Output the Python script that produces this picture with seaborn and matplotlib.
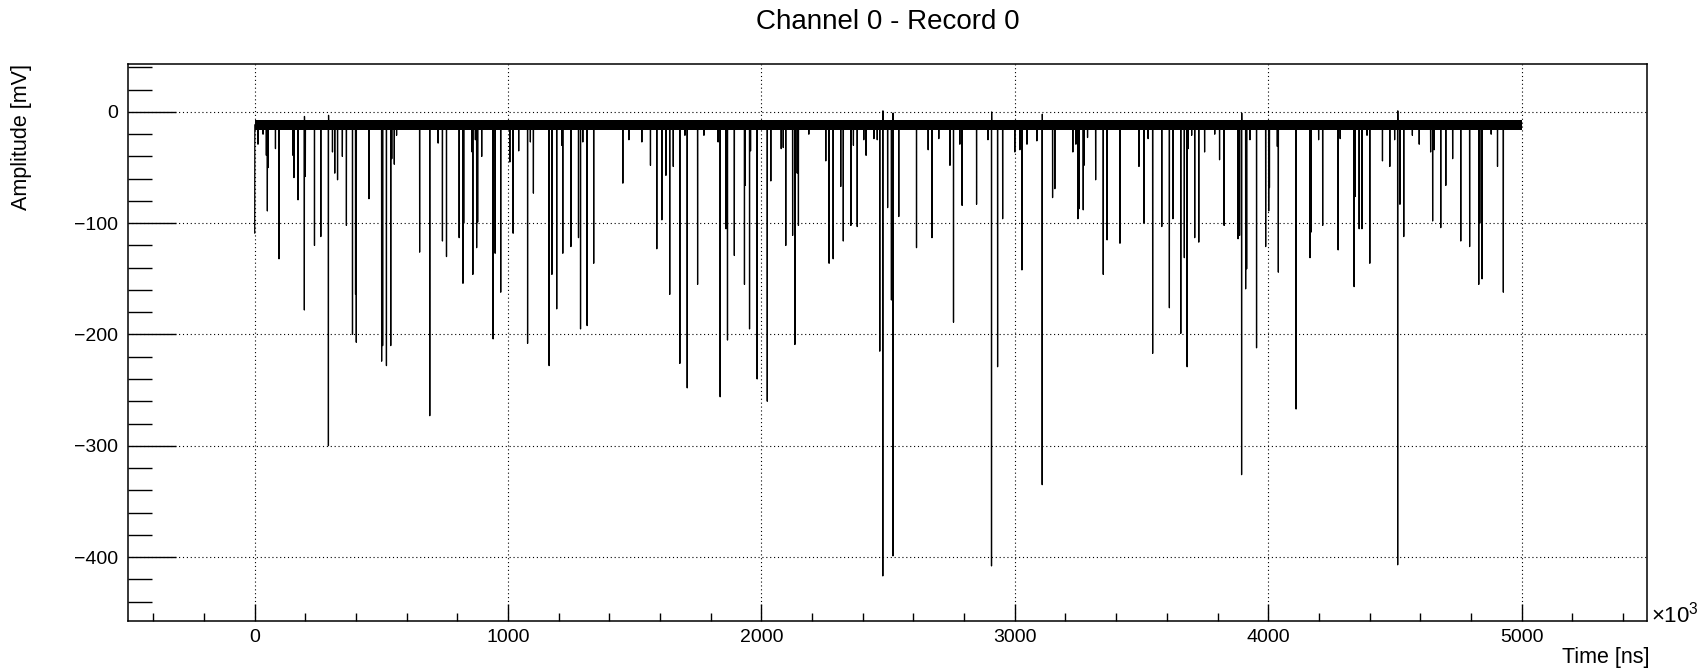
import numpy as np
import pandas as pd
import matplotlib
matplotlib.use("Agg")
import matplotlib.pyplot as plt
import seaborn as sns
from matplotlib.ticker import MultipleLocator

# ---------------- data (time in units of 10^3 ns, amplitude in mV) ----------------
record_start = 0
record_end = 5000
sample_step = 0.5
baseline_mv = -11.5
noise_low_mv = -16.0
noise_high_mv = -7.0

spike_times = [
    0, 13, 33, 46, 50, 53, 82, 96, 151, 155, 171, 196, 200, 236, 261, 291, 307, 316,
    327, 346, 362, 386, 398, 401, 451, 501, 505, 520, 537, 541, 551, 560, 651, 691,
    724, 741, 757, 807, 822, 825, 858, 861, 871, 876, 880, 896, 941, 949,
    971, 1007, 1020, 1042, 1077, 1088, 1100, 1162, 1173, 1192, 1212, 1216, 1248,
    1249, 1278, 1286, 1295, 1312, 1338, 1453, 1477, 1528, 1562, 1587, 1607, 1623,
    1638, 1652, 1678, 1698, 1707, 1748, 1773, 1829, 1837, 1860, 1866, 1893, 1933,
    1936, 1953,
    1957, 1983, 2023, 2037, 2078, 2086, 2096, 2123, 2132, 2141, 2146, 2187, 2254,
    2267, 2283, 2313, 2323, 2353, 2363, 2378, 2404, 2413, 2444, 2457, 2467, 2479,
    2498, 2513, 2519, 2542, 2612, 2658, 2673, 2700, 2744, 2758, 2783, 2792, 2849,
    2894, 2908, 2932,
    2952, 3000, 3020, 3028, 3048, 3087, 3108, 3149, 3158, 3229, 3241, 3249, 3253,
    3270, 3273, 3287, 3319, 3349, 3364, 3415, 3490, 3510, 3526, 3544, 3580, 3610,
    3624, 3655, 3669, 3680, 3684, 3698, 3710, 3726, 3749, 3789, 3808, 3826, 3881,
    3887, 3895, 3911, 3915,
    3928, 3954, 3990, 4002, 4005, 4036, 4040, 4110, 4165, 4169, 4199, 4215, 4276,
    4284, 4339, 4343, 4359, 4370, 4390, 4401, 4451, 4480, 4499, 4511, 4520, 4535,
    4569, 4596, 4641, 4649, 4655, 4681, 4701, 4728, 4760, 4795, 4831, 4835, 4844,
    4880, 4905, 4928,
]
spike_amps = [
    -109, -29, -20, -39, -89, -50, -33, -132, -39, -59, -79, -178, -58, -120, -112, -300, -36, -55,
    -61, -40, -102, -200, -164, -207, -78, -224, -210, -228, -210, -42, -47, -21, -126, -273,
    -28, -116, -130, -113, -154, -100, -36, -146, -25, -122, -99, -40, -204, -127,
    -162, -45, -109, -35, -208, -27, -73, -228, -146, -177, -30, -127, -121,
    -42, -113, -195, -27, -192, -136, -64, -25, -27, -48, -123, -97, -57,
    -164, -49, -226, -21, -248, -155, -21, -27, -256, -105, -205, -129, -155,
    -66, -195,
    -35, -240, -260, -62, -33, -32, -120, -111, -209, -55, -102, -20, -44,
    -136, -132, -67, -116, -102, -30, -103, -25, -39, -24, -25, -215, -417,
    -86, -169, -399, -94, -122, -34, -113, -24, -48, -189, -29, -84, -83,
    -25, -408, -229,
    -96, -36, -34, -142, -29, -26, -335, -77, -69, -36, -29, -96, -87,
    -88, -48, -23, -61, -146, -115, -118, -49, -100, -24, -217, -103, -176,
    -96, -199, -131, -229, -33, -21, -113, -117, -36, -20, -43, -102, -114,
    -111, -326, -159, -141,
    -25, -212, -121, -89, -68, -31, -144, -267, -131, -108, -25, -102, -124,
    -24, -157, -76, -105, -105, -21, -136, -44, -49, -25, -407, -83, -112,
    -21, -29, -36, -98, -34, -104, -66, -42, -116, -121, -155, -100, -150,
    -20, -49, -162,
]
overshoot_times = [196, 291, 2479, 2519, 2908, 3108, 3895, 4511]
overshoot_amps = [-4, -3, 1, -1, 0, -2, -1, 1]

x_major = [0, 1000, 2000, 3000, 4000, 5000]
y_major = [0, -100, -200, -300, -400]

# ---------------- build the sampled trace ----------------
time = np.arange(record_start, record_end + sample_step, sample_step)
amplitude = np.full(time.shape, baseline_mv)
idx = np.round(np.array(spike_times) / sample_step).astype(int)
amplitude[idx] = np.minimum(amplitude[idx], np.array(spike_amps, dtype=float))
oidx = np.round(np.array(overshoot_times) / sample_step).astype(int) + 1
amplitude[oidx] = np.array(overshoot_amps, dtype=float)
df = pd.DataFrame({"time": time, "amplitude": amplitude})

# ---------------- style ----------------
sns.set_theme(style="white")
plt.rcParams["font.family"] = ["Liberation Sans", "DejaVu Sans"]
plt.rcParams["mathtext.fontset"] = "custom"
plt.rcParams["mathtext.rm"] = "Liberation Sans"
plt.rcParams["mathtext.it"] = "Liberation Sans:italic"
plt.rcParams["text.color"] = "black"
plt.rcParams["axes.labelcolor"] = "black"
plt.rcParams["xtick.color"] = "black"
plt.rcParams["ytick.color"] = "black"

W, H = 1706, 671
fig = plt.figure(figsize=(W / 100, H / 100), dpi=100)
left, right, top, bottom = 128, 1647, 64, 621
ax = fig.add_axes([left / W, 1 - bottom / H, (right - left) / W, (bottom - top) / H])

ax.fill_between([record_start, record_end], [noise_low_mv] * 2, [noise_high_mv] * 2,
                color="black", linewidth=0, zorder=2)
sns.lineplot(data=df, x="time", y="amplitude", ax=ax, color="black", linewidth=0.9,
             estimator=None, sort=False, zorder=3)

ax.set_xlim(-500, 5495)
ax.set_ylim(-457.5, 43.1)
ax.set_xticks(x_major)
ax.set_yticks(y_major)
ax.xaxis.set_minor_locator(MultipleLocator(200))
ax.yaxis.set_minor_locator(MultipleLocator(20))
ax.tick_params(axis="both", which="both", direction="in", colors="black",
               labelsize=14, top=False, right=False, bottom=True, left=True, width=1.0)
ax.tick_params(axis="x", which="major", length=12.2, pad=6)
ax.tick_params(axis="x", which="minor", length=6.1)
ax.tick_params(axis="y", which="major", length=34.5, pad=7)
ax.tick_params(axis="y", which="minor", length=17.3)

for s in ax.spines.values():
    s.set_color("black")
    s.set_linewidth(1.1)

ax.grid(True, which="major", color="black", linestyle=(0, (1, 2.5)), linewidth=0.8)

ax.set_title("Channel 0 - Record 0", fontsize=20, color="black",
             y=1 + (top - 22) / (bottom - top), va="center", pad=0)
ax.set_xlabel("Time [ns]", fontsize=15.5)
ax.xaxis.set_label_coords((1649 - left) / (right - left), (bottom - 658) / (bottom - top))
ax.xaxis.label.set_horizontalalignment("right")
ax.xaxis.label.set_verticalalignment("center")
ax.set_ylabel("Amplitude [mV]", fontsize=15.5)
ax.yaxis.set_label_coords((22 - left) / (right - left), 1.0)
ax.yaxis.label.set_rotation_mode("anchor")
ax.yaxis.label.set_horizontalalignment("right")
ax.yaxis.label.set_verticalalignment("center")

ax.text((1651 - left) / (right - left), (bottom - 623) / (bottom - top), r"$\times10^{3}$",
        transform=ax.transAxes, ha="left", va="baseline", fontsize=16)

fig.savefig("out.png", dpi=100)
